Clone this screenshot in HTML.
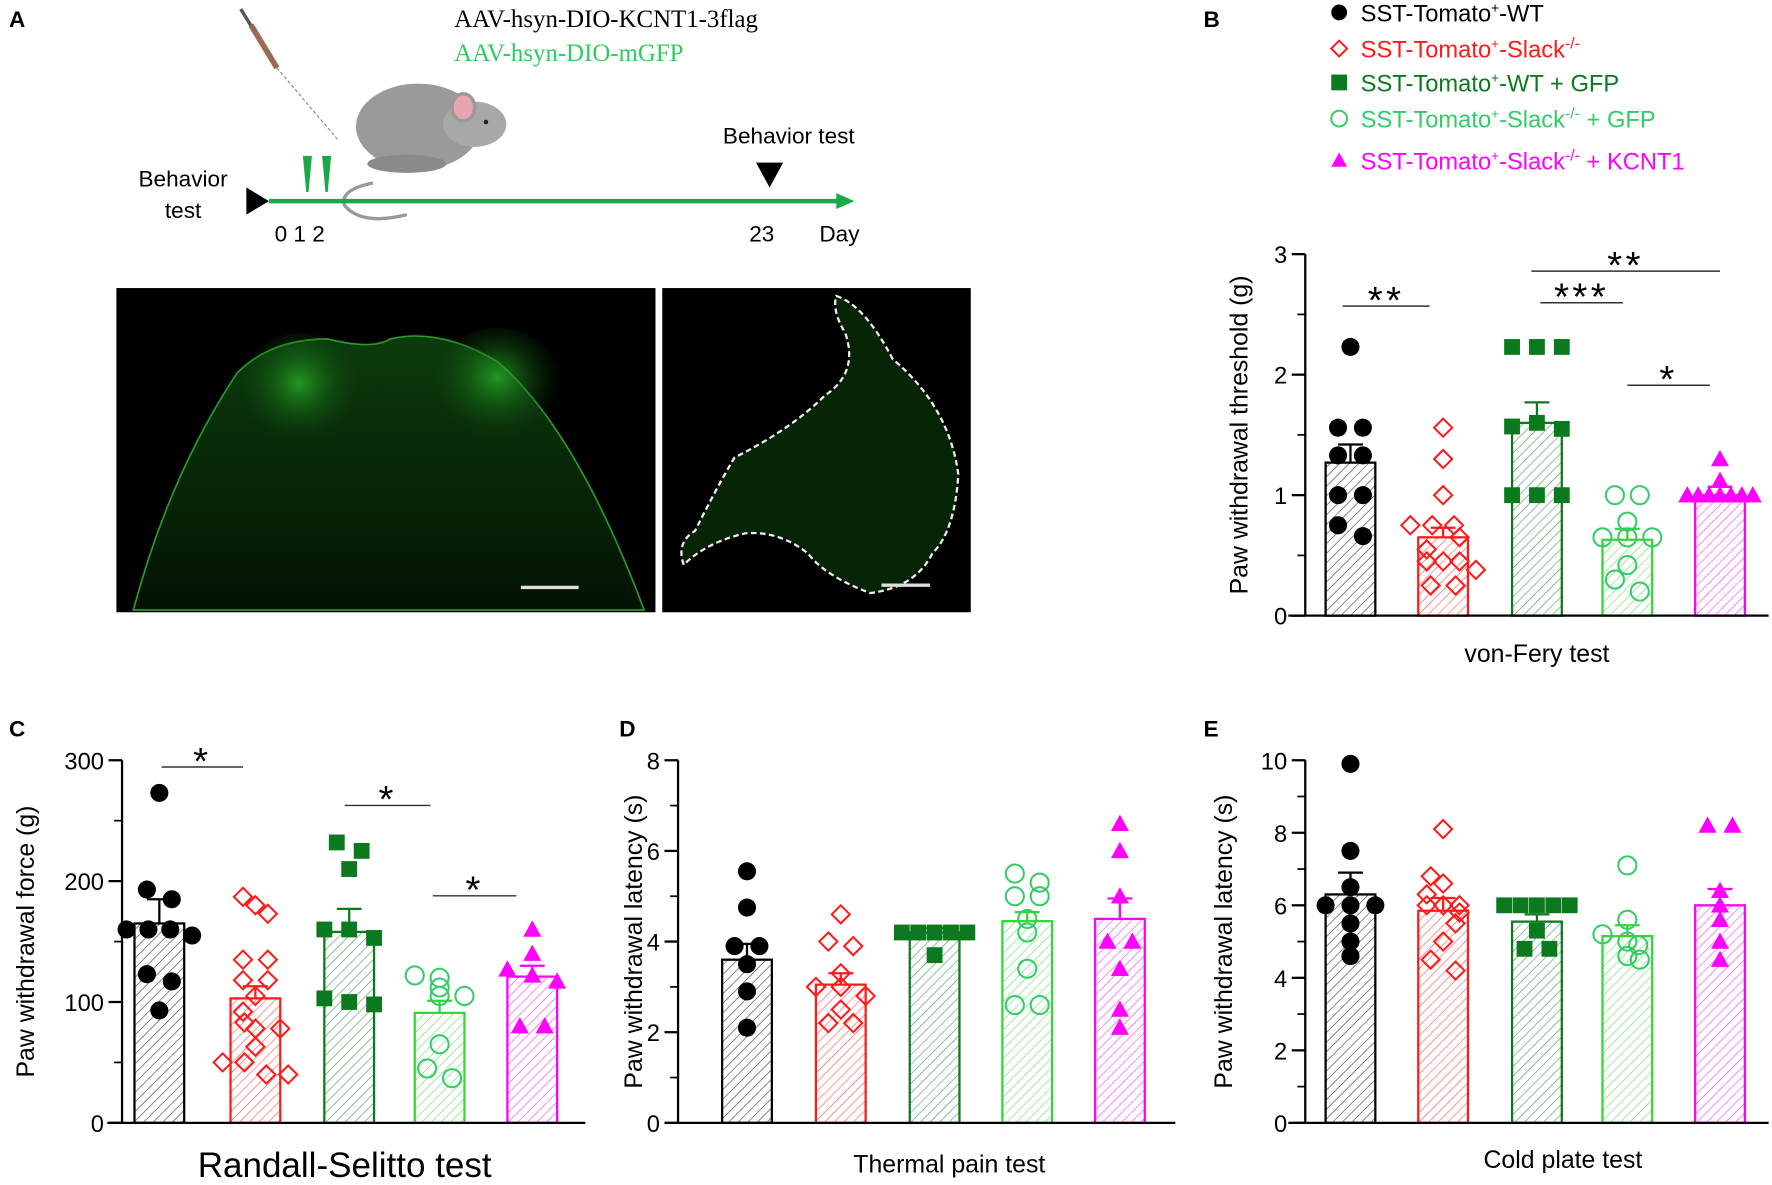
<!DOCTYPE html>
<html><head><meta charset="utf-8"><style>
html,body{margin:0;padding:0;background:#fff;}
svg{display:block;font-family:"Liberation Sans",Arial,sans-serif;}
</style></head><body>
<svg id="fig" width="1772" height="1185" viewBox="0 0 1568 1049" preserveAspectRatio="none" xmlns="http://www.w3.org/2000/svg">
<defs>
<radialGradient id="horn" cx="50%" cy="40%" r="50%"><stop offset="0" stop-color="#28b028" stop-opacity="0.8"/><stop offset="1" stop-color="#0a3a0a" stop-opacity="0"/></radialGradient>
<linearGradient id="cord" x1="0" y1="0" x2="0" y2="1"><stop offset="0" stop-color="#0c3c0d"/><stop offset="1" stop-color="#031203"/></linearGradient>
</defs>
<g id="panelA">
<text x="8" y="24" font-size="20" font-weight="bold">A</text>
<g>
<line x1="213" y1="8" x2="245" y2="60" stroke="#555" stroke-width="3"/>
<line x1="222" y1="22" x2="245" y2="60" stroke="#9a6a55" stroke-width="5"/>
<line x1="245" y1="60" x2="300" y2="125" stroke="#888" stroke-width="1" stroke-dasharray="3,2"/>
</g>
<g>
<path d="M330 162 Q300 168 305 182 Q320 200 360 190" fill="none" stroke="#999" stroke-width="3"/>
<ellipse cx="370" cy="112" rx="55" ry="38" fill="#9a9a9a"/>
<ellipse cx="420" cy="110" rx="28" ry="20" fill="#a8a8a8"/>
<ellipse cx="410" cy="95" rx="10" ry="12" fill="#e8a5b0" stroke="#999" stroke-width="3"/>
<circle cx="430" cy="108" r="2" fill="#222"/>
<ellipse cx="360" cy="145" rx="35" ry="8" fill="#8a8a8a"/>
</g>
<text x="402" y="24" font-family="Liberation Serif,serif" font-size="22">AAV-hsyn-DIO-KCNT1-3flag</text>
<text x="402" y="54" font-family="Liberation Serif,serif" font-size="22" fill="#2ecc5a">AAV-hsyn-DIO-mGFP</text>
<g>
<line x1="238" y1="178" x2="745" y2="178" stroke="#1aa84a" stroke-width="4"/>
<polygon points="740,171 756,178 740,185" fill="#1aa84a"/>
<polygon points="218,166 238,178 218,190" fill="#000"/>
<polygon points="268,138 276,138 273,170 271,170" fill="#1aa84a"/>
<polygon points="285,138 293,138 290,170 288,170" fill="#1aa84a"/>
<polygon points="669,144 693,144 681,166" fill="#000"/>
<text x="162" y="165" font-size="20" text-anchor="middle">Behavior</text>
<text x="162" y="193" font-size="20" text-anchor="middle">test</text>
<text x="698" y="127" font-size="20" text-anchor="middle">Behavior test</text>
<text x="243" y="214" font-size="20">0 1 2</text>
<text x="663" y="214" font-size="20">23</text>
<text x="725" y="214" font-size="20">Day</text>
</g>
<g>
<rect x="103" y="255" width="477" height="287" fill="#000"/>
<path d="M118 540 Q150 420 210 330 Q240 300 290 300 Q330 310 345 300 Q390 290 440 320 Q510 380 570 540 Z" fill="url(#cord)" stroke="#2a9a2a" stroke-width="1.5"/>
<ellipse cx="265" cy="350" rx="55" ry="55" fill="url(#horn)"/>
<ellipse cx="440" cy="345" rx="60" ry="55" fill="url(#horn)"/>
<line x1="461" y1="520" x2="512" y2="520" stroke="#ddd" stroke-width="3"/>
</g>
<g>
<rect x="586" y="255" width="273" height="287" fill="#000"/>
<path d="M740 262 Q765 270 790 318 Q840 360 848 420 Q845 470 825 490 Q810 520 770 525 Q730 510 715 490 Q690 470 660 472 Q625 480 605 500 Q598 480 615 470 Q635 430 650 405 Q700 380 730 350 Q760 330 748 295 Q736 275 740 262 Z" fill="#062406" stroke="#eee" stroke-width="2" stroke-dasharray="5,3"/>
<line x1="780" y1="518" x2="823" y2="518" stroke="#ddd" stroke-width="3"/>
</g>
</g>
<g id="legend"></g>
<g id="charts"></g>
</svg>
<script>
// ---------- data ----------
const groups = ["SST-Tomato+-WT","SST-Tomato+-Slack-/-","SST-Tomato+-WT + GFP","SST-Tomato+-Slack-/- + GFP","SST-Tomato+-Slack-/- + KCNT1"];
const vfMeans = [1.27, 0.65, 1.6, 0.63, 1.0];
const vfSem = [0.15, 0.08, 0.17, 0.09, 0.07];
const vfPoints = [
 [2.23,1.56,1.56,1.33,1.33,1.0,1.0,0.75,0.66],
 [1.56,1.3,1.0,0.75,0.75,0.75,0.65,0.55,0.45,0.45,0.45,0.38,0.25,0.25],
 [2.23,2.23,2.23,1.57,1.6,1.55,1.0,1.0,1.0],
 [1.0,1.0,0.78,0.65,0.65,0.65,0.42,0.3,0.2],
 [1.3,1.12,1.0,1.0,1.0,1.0,1.0,1.0,1.0]];
const vfTicks = [0,1,2,3];
const rsMeans = [165, 103, 158, 91, 121];
const rsSem = [20, 10, 19, 10, 9];
const rsPoints = [
 [273,193,185,160,160,160,155,123,117,93],
 [187,180,173,135,135,118,118,105,92,83,78,78,63,50,50,40,40],
 [232,225,210,160,160,153,103,100,98],
 [122,120,112,105,105,65,45,37],
 [160,140,127,122,117,80,80]];
const rsTicks = [0,100,200,300];
const tpMeans = [3.6, 3.05, 4.2, 4.45, 4.5];
const tpSem = [0.35, 0.25, 0.1, 0.2, 0.45];
const tpPoints = [
 [5.55,4.75,3.9,3.9,3.5,2.9,2.1],
 [4.6,4.0,3.9,3.3,3.0,3.0,2.8,2.5,2.2,2.2],
 [4.2,4.2,4.2,4.2,4.2,3.7],
 [5.5,5.3,5.0,5.0,4.5,4.2,3.4,2.6,2.6],
 [6.6,6.0,5.0,4.0,4.0,3.4,2.5,2.1]];
const tpTicks = [0,2,4,6,8];
const cpMeans = [6.3, 5.85, 5.55, 5.15, 6.0];
const cpSem = [0.6, 0.35, 0.2, 0.3, 0.45];
const cpPoints = [
 [9.9,7.5,6.5,6.0,6.0,6.0,5.5,5.0,4.6],
 [8.1,6.8,6.6,6.3,6.0,6.0,6.0,5.8,5.5,5.0,4.5,4.2],
 [6.0,6.0,6.0,6.0,6.0,5.3,4.8,4.8],
 [7.1,5.6,5.2,5.0,4.9,4.6,4.5],
 [8.2,8.2,6.4,6.0,5.6,5.0,4.5]];
const cpTicks = [0,2,4,6,8,10];

// ---------- styles ----------
const colors = ["#000000","#ff1a1a","#0b7a1e","#35d535","#ff00ff"];
const markerColors = ["#000000","#ff1a1a","#0b7a1e","#33cc66","#ff00ff"];
const shapes = ["circle","diamond","square","ocircle","triangle"];
const NS = "http://www.w3.org/2000/svg";
const svg = document.getElementById('fig');
function mk(tag, attrs, parent){const e=document.createElementNS(NS,tag);for(const k in attrs)e.setAttribute(k,attrs[k]);(parent||svg).appendChild(e);return e;}

const defs = svg.querySelector('defs');
colors.forEach((c,i)=>{
  const p=mk('pattern',{id:'hatch'+i,width:6,height:6,patternUnits:'userSpaceOnUse',patternTransform:'rotate(45)'},defs);
  mk('line',{x1:0,y1:0,x2:0,y2:6,stroke:c,'stroke-width':1.1,'stroke-opacity':0.75},p);
});

function marker(parent, shape, color, x, y, r){
  let e;
  if(shape==='circle') e=mk('circle',{cx:x,cy:y,r:r,fill:color},parent);
  else if(shape==='ocircle') e=mk('circle',{cx:x,cy:y,r:r,fill:'none',stroke:color,'stroke-width':1.8},parent);
  else if(shape==='square') e=mk('rect',{x:x-r,y:y-r,width:2*r,height:2*r,fill:color},parent);
  else if(shape==='diamond') e=mk('polygon',{points:`${x},${y-r} ${x+r},${y} ${x},${y+r} ${x-r},${y}`,fill:'none',stroke:color,'stroke-width':1.8},parent);
  else e=mk('polygon',{points:`${x},${y-r} ${x+r},${y+r*0.8} ${x-r},${y+r*0.8}`,fill:color},parent);
  return e;
}

// legend
const leg=document.getElementById('legend');
const legY=[12,44,74,106,143];
groups.forEach((g,i)=>{
  const row=mk('g',{},leg);
  
  
  marker(row,shapes[i],markerColors[i],1185,legY[i]-1,7);
  const t=mk('text',{x:1204,y:legY[i]+7,'font-size':21,fill:markerColors[i]},row);
  const segs=g.match(/SST-Tomato\+(.*)/)[1];
  t.appendChild(document.createTextNode('SST-Tomato'));
  const s1=mk('tspan',{'font-size':12,dy:-8},t); s1.textContent='+';
  if(segs.includes('-/-')){
    const [a,b]=segs.split('-/-');
    const s2=mk('tspan',{dy:8},t); s2.textContent=a;
    const s3=mk('tspan',{'font-size':14,dy:-8},t); s3.textContent='-/-';
    const s4=mk('tspan',{dy:8},t); s4.textContent=b;
  } else { const s2=mk('tspan',{dy:8},t); s2.textContent=segs; }
});

// panels
const panels=[
 {name:'von-fery',label:'B',lx:1065,ly:24,means:vfMeans,sem:vfSem,pts:vfPoints,ticks:vfTicks,max:3,ax:1155,x0:1140,x1:1565,y0:545,yT:225,
  bars:[1195,1277,1360,1440,1522],bw:44,ytitle:'Paw withdrawal threshold (g)',ytx:1096,xtitle:'von-Fery  test',xtx:1360,xty:586,xts:22,
  sig:[[1188,1265,271,'**'],[1355,1522,240,'**'],[1363,1436,268,'***'],[1440,1513,341,'*']]},
 {name:'randall-selitto',label:'C',lx:8,ly:652,means:rsMeans,sem:rsSem,pts:rsPoints,ticks:rsTicks,max:300,ax:108,x0:95,x1:518,y0:994,yT:673,
  bars:[141,226,309,389,471],bw:44,ytitle:'Paw withdrawal force (g)',ytx:22,xtitle:'Randall-Selitto test',xtx:305,xty:1042,xts:31,
  sig:[[143,215,679,'*'],[305,381,713,'*'],[383,457,793,'*']]},
 {name:'thermal-pain',label:'D',lx:548,ly:652,means:tpMeans,sem:tpSem,pts:tpPoints,ticks:tpTicks,max:8,ax:600,x0:588,x1:1040,y0:994,yT:673,
  bars:[661,744,827,909,991],bw:44,ytitle:'Paw withdrawal latency (s)',ytx:560,xtitle:'Thermal pain test',xtx:840,xty:1038,xts:22,sig:[]},
 {name:'cold-plate',label:'E',lx:1065,ly:652,means:cpMeans,sem:cpSem,pts:cpPoints,ticks:cpTicks,max:10,ax:1155,x0:1140,x1:1565,y0:994,yT:673,
  bars:[1195,1277,1360,1440,1522],bw:44,ytitle:'Paw withdrawal latency (s)',ytx:1082,xtitle:'Cold plate test',xtx:1383,xty:1034,xts:22,sig:[]}
];
const charts=document.getElementById('charts');
panels.forEach(P=>{
  const g=mk('g',{},charts);
  
  
  const y=v=>P.y0-(v/P.max)*(P.y0-P.yT);
  const lab=mk('text',{x:P.lx,y:P.ly,'font-size':20,'font-weight':'bold'},g);
  
  
  lab.textContent=P.label;
  P.means.forEach((m,i)=>{
    const cx=P.bars[i];
    const eb=mk('line',{x1:cx,x2:cx,y1:y(m),y2:y(m+P.sem[i]),stroke:colors[i],'stroke-width':2},g);
    
    
    mk('line',{x1:cx-11,x2:cx+11,y1:y(m+P.sem[i]),y2:y(m+P.sem[i]),stroke:colors[i],'stroke-width':2},g);
    const b=mk('rect',{x:cx-P.bw/2,y:y(m),width:P.bw,height:y(0)-y(m),fill:'url(#hatch'+i+')',stroke:colors[i],'stroke-width':2},g);
    
    
  });
  P.pts.forEach((arr,i)=>{
    const cx=P.bars[i];
    const tol=P.max*0.035;
    const used=[];
    arr.forEach(v=>{
      let clus=arr.filter(w=>Math.abs(w-v)<tol);
      let k=used.filter(w=>Math.abs(w-v)<tol).length;
      used.push(v);
      const n=clus.length;
      const sp=Math.min(22,58/Math.max(1,n-1));
      const off = n===1?0:(k-(n-1)/2)*sp;
      const pm=marker(g,shapes[i],markerColors[i],cx+off,y(v),shapes[i]==='square'?7:8);
      
      
    });
  });
  const ya=mk('line',{x1:P.ax,x2:P.ax,y1:P.yT,y2:P.y0,stroke:'#000','stroke-width':2},g);
  
  
  const xa=mk('line',{x1:P.x0,x2:P.x1,y1:P.y0,y2:P.y0,stroke:'#000','stroke-width':2},g);
  
  
  const step=P.ticks[1]-P.ticks[0];
  P.ticks.forEach((t,j)=>{
    mk('line',{x1:P.ax-12,x2:P.ax,y1:y(t),y2:y(t),stroke:'#000','stroke-width':2},g);
    if(j<P.ticks.length-1) mk('line',{x1:P.ax-7,x2:P.ax,y1:y(t+step/2),y2:y(t+step/2),stroke:'#000','stroke-width':1.5},g);
    const tl=mk('text',{x:P.ax-16,y:y(t)+8,'font-size':21,'text-anchor':'end'},g);
    
    
    tl.textContent=t;
  });
  const midY=(P.y0+P.yT)/2;
  const yt=mk('text',{x:P.ytx,y:midY,'font-size':22,'text-anchor':'middle',transform:`rotate(-90 ${P.ytx} ${midY})`,dy:8},g);
  
  
  yt.textContent=P.ytitle;
  const xt=mk('text',{x:P.xtx,y:P.xty,'font-size':P.xts,'text-anchor':'middle'},g);
  
  
  xt.textContent=P.xtitle;
  P.sig.forEach(s=>{
    const sl=mk('line',{x1:s[0],x2:s[1],y1:s[2],y2:s[2],stroke:'#333','stroke-width':1.3},g);
    
    
    const st=mk('text',{x:(s[0]+s[1])/2,y:s[2]+6,'font-size':34,'text-anchor':'middle','letter-spacing':3},g);
    
    
    st.textContent=s[3];
  });
});
</script>
</body></html>
